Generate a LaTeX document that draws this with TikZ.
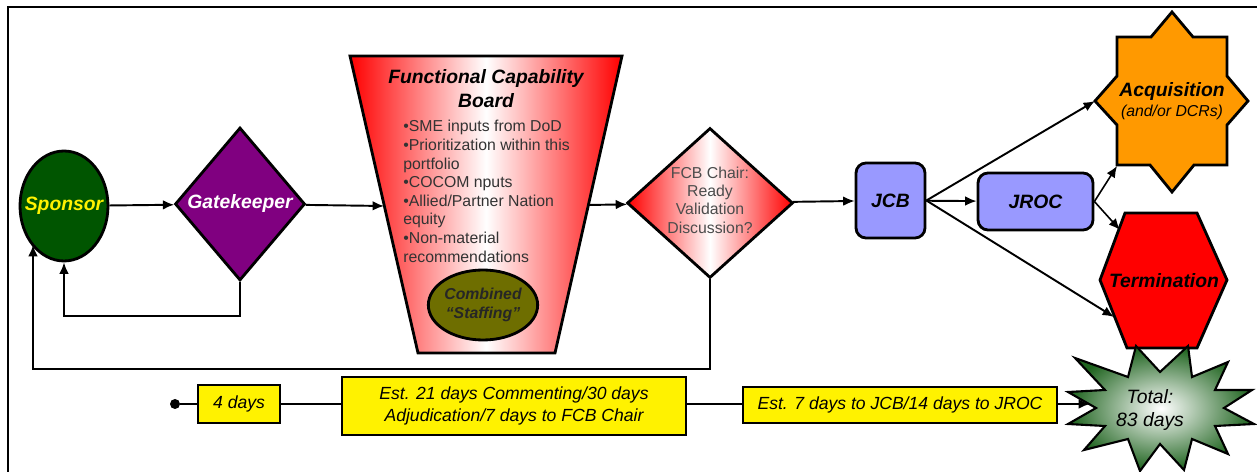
\documentclass[tikz,border=0pt]{standalone}
\usepackage{fontspec}
\setmainfont{Liberation Sans}
\usetikzlibrary{shapes.geometric, calc, arrows.meta}

\definecolor{sponsorgreen}{HTML}{005500}
\definecolor{gatepurple}{HTML}{800080}
\definecolor{staffolive}{HTML}{6E6E00}
\definecolor{boardblue}{HTML}{9999FF}
\definecolor{acqorange}{HTML}{FF9900}
\definecolor{starburst}{HTML}{1E631E}

\tikzset{
    flow/.style = {line width = 1.1pt, ->},
    shapeline/.style = {draw, line width = 1.6pt},
    bigtext/.style = {font = \fontsize{11}{13.6}\selectfont\bfseries\itshape},
    sponsorbox/.style = {shapeline, ellipse, fill = sponsorgreen, text = yellow, bigtext,
        minimum width = 1.76cm, minimum height = 2.2cm, inner sep = 0pt},
    gatebox/.style = {shapeline, diamond, fill = gatepurple, text = white, bigtext,
        minimum width = 2.6cm, minimum height = 3.06cm, inner sep = 0pt},
    chairbox/.style = {shapeline, diamond, left color = red, right color = red, middle color = white,
        minimum width = 3.32cm, minimum height = 3.0cm, inner sep = 0pt},
    chairtext/.style = {align = center, text = black!70, inner sep = 0pt,
        font = \fontsize{9}{10.4}\selectfont},
    staffbox/.style = {shapeline, ellipse, fill = staffolive, text = black!85, align = center,
        minimum width = 2.18cm, minimum height = 1.4cm, inner sep = 0pt,
        font = \fontsize{9}{10.6}\selectfont\bfseries\itshape},
    boardbox/.style = {shapeline, rounded corners = 0.2cm, fill = boardblue, bigtext, inner sep = 0pt},
    timebox/.style = {draw, line width = 1.3pt, fill = yellow, align = center, inner sep = 0pt,
        font = \fontsize{10}{12}\selectfont\itshape},
}

\begin{document}
\begin{tikzpicture}[x = 0.02cm, y = -0.02cm, > = {Latex[length = 6.5pt, width = 5.5pt]}]

        \useasboundingbox (0,0) rectangle (1257,472);

        % Frame round the chart.
        \draw [line width = 1pt] (8,472) to (8,7) to (1257,7);

        % Positions for all of the shapes.
        \coordinate (S) at (64,206);
        \coordinate (G) at (240,204);
        \coordinate (C) at (710,203);
        \coordinate (fcbin) at (384,206);
        \coordinate (fcbout) at (588,205);
        \coordinate (sponsorlow) at (33,245);
        \coordinate (acqwest) at (1095,101);
        \coordinate (acqcorner) at (1117,166);
        \coordinate (termhigh) at (1120,230);
        \coordinate (termlow) at (1114,317);
        \coordinate (totalin) at (1090,404);

        % Shapes drawn as paths.
        \path [shapeline, left color = red, right color = red, middle color = white]
            (350,56) to (622,56) to (555,353) to (418,353) to cycle;
        \path [shapeline, fill = acqorange]
            (1172,12) to (1193,37) to (1227,37) to (1227,76) to (1248,101) to (1227,125)
            to (1227,165) to (1194,165) to (1172,192) to (1150,165) to (1117,165)
            to (1117,125) to (1095,101) to (1117,76) to (1117,37) to (1151,37) to cycle;
        \path [shapeline, fill = red]
            (1125,213) to (1197,213) to (1227,280) to (1197,348) to (1127,348) to (1100,280) to cycle;
        \path [shapeline, line width = 1.2pt, inner color = white, outer color = starburst]
            (1224,408) to (1252,390) to (1215,390) to (1228,362) to (1192,377) to (1188,346)
            to (1160,372) to (1136,346) to (1128,377) to (1075,358) to (1105,390) to (1068,392)
            to (1096,408) to (1068,424) to (1105,426) to (1084,450) to (1128,439) to (1140,471)
            to (1160,444) to (1184,470) to (1192,439) to (1228,454) to (1215,426) to (1254,424)
            to cycle;

        % The nodes of the chart.
        \node [sponsorbox] (sponsor) at (S) {\makebox[0pt]{Sponsor}};
        \node [gatebox] (gate) at (G) {Gatekeeper};
        \node [bigtext, align = center, inner sep = 0pt, anchor = north] (fcb) at (486,69)
            {Functional Capability\\Board};
        \node [anchor = north west, align = left, inner sep = 0pt, text = black!80,
            font = \fontsize{9}{10.6}\selectfont] (fcblist) at (403,120)
            {•SME inputs from DoD\\•Prioritization within this\\portfolio\\•COCOM  nputs\\
             •Allied/Partner Nation\\equity\\•Non-material\\recommendations};
        \node [staffbox] (staffing) at (483,305) {Combined\\“Staffing”};
        \node [chairbox] (chair) at (C) {};
        \node [chairtext] at (710,200) {FCB Chair:\\Ready\\Validation\\Discussion?};
        \node [boardbox, minimum width = 1.38cm, minimum height = 1.5cm] (jcb) at (890.5,200.5) {JCB};
        \node [boardbox, minimum width = 2.3cm, minimum height = 1.14cm] (jroc) at (1035.5,201.5) {JROC};
        \node [align = center, inner sep = 0pt] (acq) at (1172,101)
            {{\fontsize{11}{13.6}\selectfont\bfseries\itshape Acquisition}\\[-1pt]
             {\fontsize{9}{10}\selectfont\itshape (and/or DCRs)}};
        \node [bigtext, inner sep = 0pt] (term) at (1164,281) {Termination};
        \node [align = center, inner sep = 0pt, font = \fontsize{11}{12.6}\selectfont\itshape]
            (total) at (1150,410) {Total:\\83 days};

        % Flow from the sponsor to the boards.
        \draw [flow] (sponsor) to (gate);
        \draw [flow] (gate) to (fcbin);
        \draw [flow] (fcbout) to (chair);
        \draw [flow] (chair) to (jcb);
        \draw [flow] (jcb) to (jroc);
        \draw [flow] (jcb.east) to (acqwest);
        \draw [flow] (jcb.east) to (termlow);
        \draw [flow, line width = 0.9pt] (jroc.east) to (acqcorner);
        \draw [flow, line width = 0.9pt] (jroc.east) to (termhigh);

        % Loops back to the sponsor.
        \draw [flow] (gate.south) to ++(0,34) -| (sponsor.south);
        \draw [flow] (chair.south) to ++(0,90) -| (sponsorlow);

        % Time line along the bottom.
        \node [circle, fill, inner sep = 0pt, minimum size = 0.2cm] (start) at (175,404) {};
        \node [timebox, minimum width = 1.64cm, minimum height = 0.76cm] (days4) at (239,404) {4 days};
        \node [timebox, minimum width = 6.88cm, minimum height = 1.16cm] (days51) at (514,406)
            {Est. 21 days Commenting/30 days\\Adjudication/7 days to FCB Chair};
        \node [timebox, minimum width = 6.28cm, minimum height = 0.72cm] (days21) at (900,405)
            {Est. 7 days to JCB/14 days to JROC};
        \draw [line width = 1.1pt] (start) to (days4);
        \draw [line width = 1.1pt] (days4.east) to (days51.west |- start);
        \draw [line width = 1.1pt] (days51.east |- start) to (days21.west |- start);
        \draw [flow] (days21.east |- start) to (totalin);

    \end{tikzpicture}
\end{document}
